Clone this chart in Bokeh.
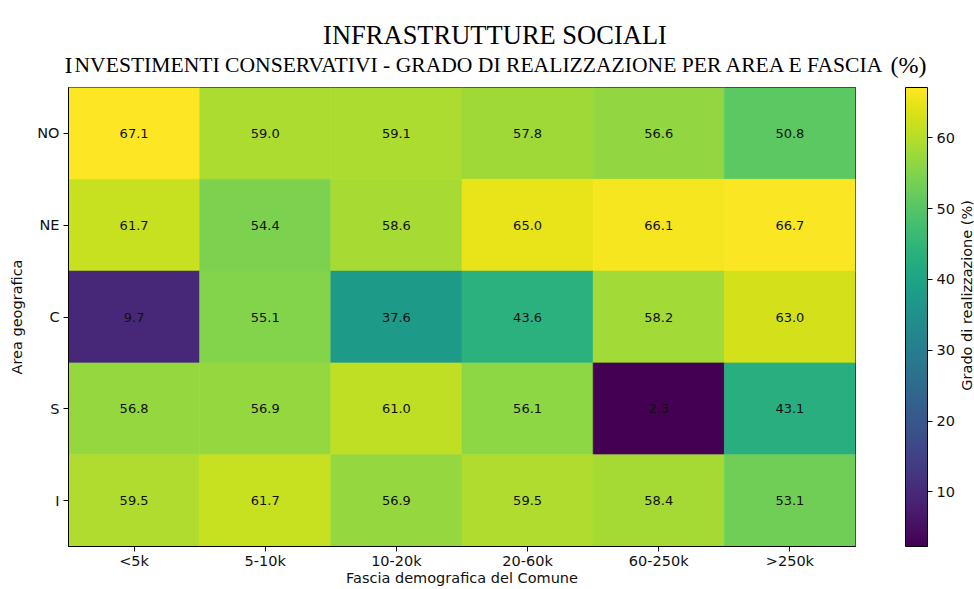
import math
from bokeh.plotting import figure
from bokeh.layouts import column, row
from bokeh.models import (ColumnDataSource, LinearColorMapper, ColorBar, FixedTicker,
                          Label, Range1d)
from bokeh.palettes import Viridis256
from bokeh.transform import transform
from bokeh.core.properties import value
from bokeh.embed import file_html
from bokeh.resources import INLINE

# ---- data ----
areas = ["NO", "NE", "C", "S", "I"]
fasce = ["<5k", "5-10k", "10-20k", "20-60k", "60-250k", ">250k"]
v_NO = [67.1, 59.0, 59.1, 57.8, 56.6, 50.8]
v_NE = [61.7, 54.4, 58.6, 65.0, 66.1, 66.7]
v_C = [9.7, 55.1, 37.6, 43.6, 58.2, 63.0]
v_S = [56.8, 56.9, 61.0, 56.1, 2.3, 43.1]
v_I = [59.5, 61.7, 56.9, 59.5, 58.4, 53.1]
rows = [v_NO, v_NE, v_C, v_S, v_I]
cbar_ticks = [10, 20, 30, 40, 50, 60]

title_text = "INFRASTRUTTURE SOCIALI"
sub_first = "I"
sub_mid = "NVESTIMENTI CONSERVATIVI - GRADO DI REALIZZAZIONE PER AREA E FASCIA"
sub_last = "(%)"
x_title = "Fascia demografica del Comune"
y_title = "Area geografica"
cbar_title = "Grado di realizzazione (%)"

xs, ys, vs, labs = [], [], [], []
n = len(areas)
for i, r in enumerate(rows):
    for j, v in enumerate(r):
        xs.append(j)
        ys.append(n - 1 - i)
        vs.append(v)
        labs.append(f"{v:.1f}")
src = ColumnDataSource(dict(x=xs, y=ys, v=vs, label=labs))

all_vals = [v for r in rows for v in r]
mapper = LinearColorMapper(palette=Viridis256, low=min(all_vals), high=max(all_vals))

FONT = "DejaVu Sans"
SERIF = "Liberation Serif"
LBL = "14.5px"
W, H = 974, 589
TOP_H = 79
MAIN_W = 958


def blank(width, height):
    f = figure(width=width, height=height, output_backend="svg", toolbar_location=None,
               x_range=Range1d(0, width), y_range=Range1d(0, height),
               min_border=0, x_axis_location=None, y_axis_location=None)
    f.outline_line_color = None
    f.grid.visible = False
    return f


# ---- title strip ----
t = blank(W, TOP_H)
t.add_layout(Label(x=494.5, y=TOP_H - 34, text=title_text,
                   text_align="center", text_baseline="alphabetic",
                   text_font=SERIF, text_font_size="26.5px", text_color="black"))
t.add_layout(Label(x=64, y=TOP_H - 64, text=sub_first,
                   text_align="left", text_baseline="alphabetic",
                   text_font=SERIF, text_font_size="24px", text_color="black"))
t.add_layout(Label(x=74, y=TOP_H - 64, text=sub_mid,
                   text_align="left", text_baseline="alphabetic",
                   text_font=SERIF, text_font_size="21.6px", text_color="black"))
t.add_layout(Label(x=926, y=TOP_H - 64, text=sub_last,
                   text_align="right", text_baseline="alphabetic",
                   text_font=SERIF, text_font_size="24px", text_color="black"))

# ---- main heatmap ----
MH = H - TOP_H
p = figure(width=MAIN_W, height=MH, output_backend="svg", toolbar_location=None,
           x_range=Range1d(-0.5, len(fasce) - 0.5), y_range=Range1d(-0.5, n - 0.5),
           min_border_left=68, min_border_right=MAIN_W - 855,
           min_border_top=87 - TOP_H, min_border_bottom=H - 546)
p.outline_line_color = "black"
p.outline_line_width = 1
p.grid.visible = False

p.rect(x="x", y="y", width=1, height=1, source=src,
       fill_color=transform("v", mapper), line_color=transform("v", mapper), line_width=0.6)
p.text(x="x", y="y", text="label", source=src, text_align="center", text_baseline="middle",
       text_font=value(FONT), text_font_size=value("13px"), text_color="#111111")

p.xaxis.ticker = FixedTicker(ticks=list(range(len(fasce))))
p.xaxis.major_label_overrides = {i: f for i, f in enumerate(fasce)}
p.yaxis.ticker = FixedTicker(ticks=list(range(n)))
p.yaxis.major_label_overrides = {n - 1 - i: a for i, a in enumerate(areas)}
for ax in (p.xaxis, p.yaxis):
    ax.minor_tick_line_color = None
    ax.major_tick_in = 0
    ax.major_tick_out = 5
    ax.major_tick_line_color = "black"
    ax.axis_line_color = "black"
    ax.major_label_text_font = FONT
    ax.major_label_text_font_size = LBL
    ax.major_label_text_color = "#111111"
    ax.axis_label_text_font = FONT
    ax.axis_label_text_font_size = LBL
    ax.axis_label_text_font_style = "normal"
    ax.axis_label_text_color = "#111111"
p.xaxis.axis_label = x_title
p.yaxis.axis_label = y_title
p.xaxis.major_label_standoff = 1
p.xaxis.axis_label_standoff = -2
p.yaxis.major_label_standoff = 4
p.yaxis.axis_label_standoff = 9

cb = ColorBar(color_mapper=mapper, ticker=FixedTicker(ticks=cbar_ticks),
              width=22, height=459, location=(905 - 68, 0), padding=0, margin=0,
              bar_line_color="black", bar_line_width=1,
              major_tick_out=5, major_tick_in=0, major_tick_line_color="black",
              minor_tick_line_color=None,
              major_label_text_font=FONT, major_label_text_font_size=LBL,
              major_label_text_color="#111111", label_standoff=4,
              background_fill_alpha=0, border_line_color=None)
p.add_layout(cb)

# ---- side strip with colour bar title ----
SW = W - MAIN_W
s = blank(SW, MH)
s.add_layout(Label(x=966.5 - MAIN_W, y=H - 310, text=cbar_title,
                   angle=math.pi / 2, text_align="center", text_baseline="middle",
                   text_font=FONT, text_font_size=LBL, text_color="#111111"))

layout = column(t, row(p, s))
open("out.html", "w").write(file_html(layout, INLINE))
